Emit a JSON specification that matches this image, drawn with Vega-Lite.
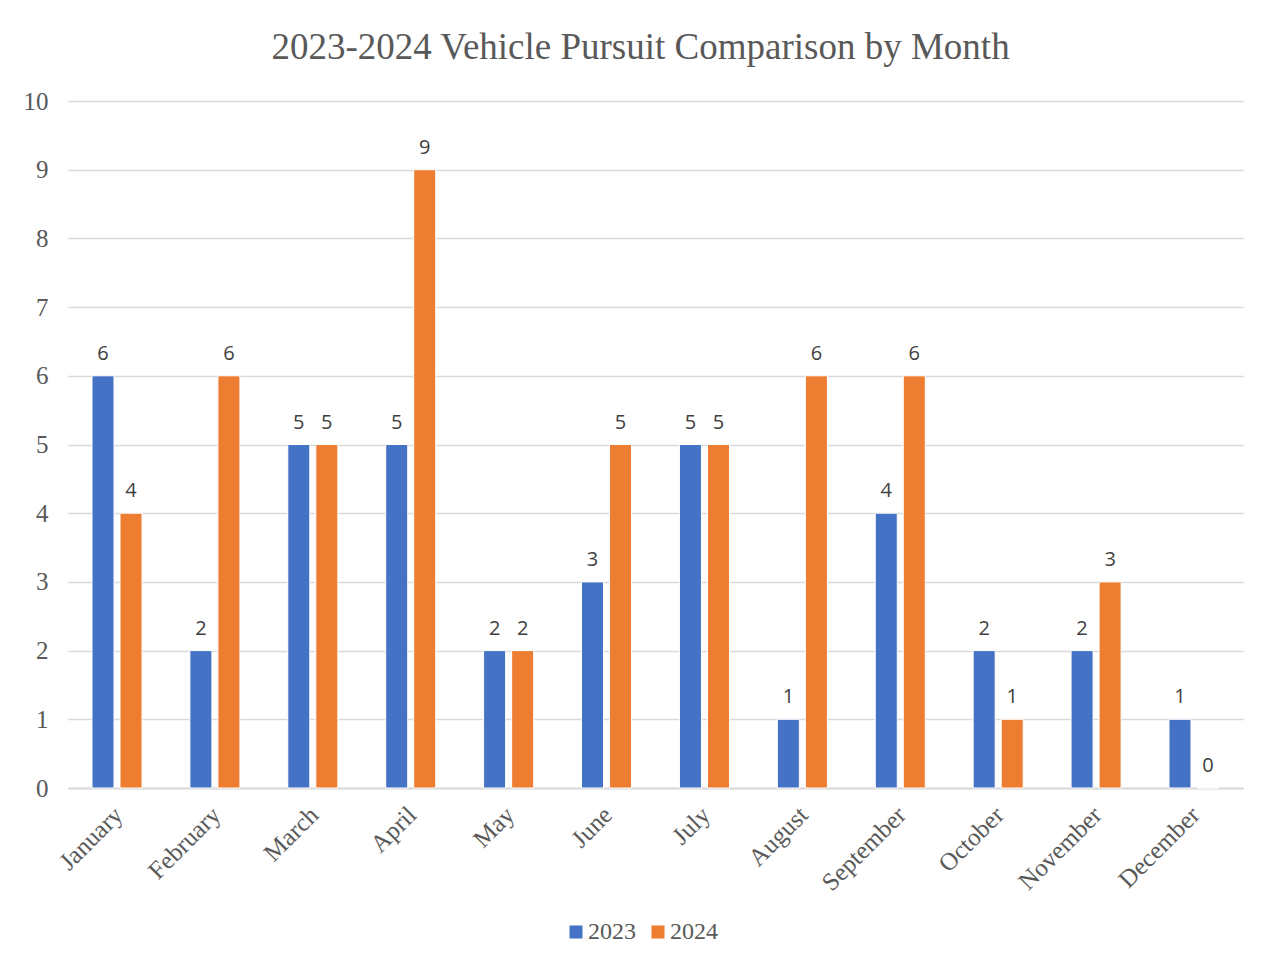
{
  "$schema": "https://vega.github.io/schema/vega-lite/v6.json",
  "autosize": "none",
  "width": 1175,
  "height": 687,
  "padding": {"left": 68, "top": 101, "right": 28, "bottom": 177},
  "background": "white",
  "title": {
    "text": "2023-2024 Vehicle Pursuit Comparison by Month",
    "font": "Liberation Serif",
    "fontSize": 37,
    "fontWeight": "normal",
    "color": "#595959",
    "anchor": "middle",
    "frame": "group",
    "dx": -15,
    "offset": 22
  },
  "data": {
    "values": [
      {"month": "January", "year": "2023", "count": 6},
      {"month": "January", "year": "2024", "count": 4},
      {"month": "February", "year": "2023", "count": 2},
      {"month": "February", "year": "2024", "count": 6},
      {"month": "March", "year": "2023", "count": 5},
      {"month": "March", "year": "2024", "count": 5},
      {"month": "April", "year": "2023", "count": 5},
      {"month": "April", "year": "2024", "count": 9},
      {"month": "May", "year": "2023", "count": 2},
      {"month": "May", "year": "2024", "count": 2},
      {"month": "June", "year": "2023", "count": 3},
      {"month": "June", "year": "2024", "count": 5},
      {"month": "July", "year": "2023", "count": 5},
      {"month": "July", "year": "2024", "count": 5},
      {"month": "August", "year": "2023", "count": 1},
      {"month": "August", "year": "2024", "count": 6},
      {"month": "September", "year": "2023", "count": 4},
      {"month": "September", "year": "2024", "count": 6},
      {"month": "October", "year": "2023", "count": 2},
      {"month": "October", "year": "2024", "count": 1},
      {"month": "November", "year": "2023", "count": 2},
      {"month": "November", "year": "2024", "count": 3},
      {"month": "December", "year": "2023", "count": 1},
      {"month": "December", "year": "2024", "count": 0}
    ]
  },
  "encoding": {
    "x": {
      "field": "month",
      "type": "nominal",
      "sort": null,
      "scale": {"paddingInner": 0.489, "paddingOuter": 0.245},
      "axis": {
        "title": null,
        "labelAngle": -45,
        "labelOffset": -7,
        "ticks": false,
        "domain": true,
        "domainColor": "#D9D9D9",
        "domainWidth": 2,
        "labelPadding": 14
      }
    },
    "xOffset": {
      "field": "year",
      "type": "nominal",
      "scale": {"paddingInner": 0.214, "paddingOuter": 0}
    },
    "y": {
      "field": "count",
      "type": "quantitative",
      "scale": {"domain": [0, 10], "nice": false},
      "axis": {
        "title": null,
        "tickCount": 10,
        "tickMinStep": 1,
        "labelOverlap": false,
        "labelFontSize": 25,
        "ticks": false,
        "domain": false,
        "grid": true,
        "gridColor": "#D9D9D9",
        "gridWidth": 1.5,
        "labelPadding": 20
      }
    }
  },
  "layer": [
    {
      "mark": {"type": "bar", "stroke": "white", "strokeWidth": 1},
      "encoding": {
        "color": {
          "field": "year",
          "type": "nominal",
          "scale": {"domain": ["2023", "2024"], "range": ["#4472C4", "#ED7D31"]},
          "legend": {
            "title": null,
            "orient": "none",
            "direction": "horizontal",
            "legendX": 496,
            "legendY": 819,
            "symbolType": "square",
            "symbolSize": 170,
            "symbolStrokeWidth": 0,
            "columnPadding": 10,
            "labelOffset": 0,
            "labelFont": "Liberation Serif",
            "labelFontSize": 24
          }
        }
      }
    },
    {
      "mark": {
        "type": "text",
        "baseline": "bottom",
        "dy": -12,
        "font": "Open Sans",
        "fontSize": 20,
        "color": "#404040"
      },
      "encoding": {
        "text": {"field": "count", "type": "quantitative"}
      }
    }
  ],
  "config": {
    "view": {"stroke": null},
    "axis": {
      "labelFont": "Liberation Serif",
      "labelFontSize": 25,
      "labelColor": "#595959"
    },
    "legend": {
      "labelFont": "Liberation Serif",
      "labelFontSize": 24,
      "labelColor": "#595959"
    }
  }
}
